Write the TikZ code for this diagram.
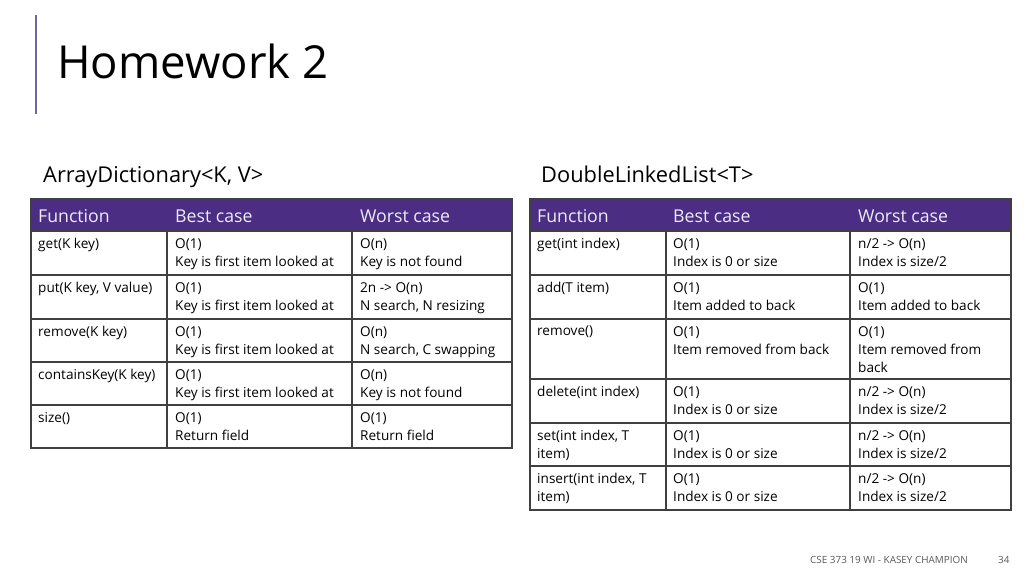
\documentclass[tikz,border=0pt]{standalone}
\usepackage{fontspec}
\setmainfont{Open Sans}
\usetikzlibrary{positioning}
\definecolor{hwpurple}{HTML}{4B2E83}
\definecolor{hwhead}{HTML}{EEEAF7}
\definecolor{hwgrid}{HTML}{404040}
\definecolor{hwbar}{HTML}{6E6A98}
\definecolor{hwfoot}{HTML}{595959}
\tikzset{
  cell/.style={anchor=north west, inner sep=0pt, align=left, font=\fontsize{13.6}{18}\selectfont},
  headcell/.style={anchor=base west, inner sep=0pt, text=hwhead, font=\fontsize{17.7}{20}\selectfont},
  tabline/.style={hwgrid, line width=1.2pt},
}

\begin{document}
\begin{tikzpicture}[x=1pt,y=-1pt]
  \useasboundingbox[fill=white] (0,0) rectangle (1024,576);
  \draw[hwbar, line width=1.5pt] (36,15) -- (36,114);
  \node[anchor=base west, inner sep=0pt, font=\fontsize{45.5}{50}\selectfont] (title) at (57,78) {Homework 2};
  \node[anchor=base west, inner sep=0pt, font=\fontsize{21.8}{24}\selectfont] (arrdict) at (43,182) {ArrayDictionary<K, V>};
  \node[anchor=base west, inner sep=0pt, font=\fontsize{21.8}{24}\selectfont] (dllist) at (541,182) {DoubleLinkedList<T>};

  \fill[hwpurple] (31,199) rectangle (512,231);
  \fill[hwpurple] (530,199) rectangle (1011,231);
  \node[headcell] (lhf) at (38,222) {Function};
  \node[headcell] (lhb) at (175,222) {Best case};
  \node[headcell] (lhw) at (360,222) {Worst case};
  \node[headcell] (rhf) at (537,222) {Function};
  \node[headcell] (rhb) at (673,222) {Best case};
  \node[headcell] (rhw) at (858,222) {Worst case};

  \draw[tabline] (31,199) rectangle (512,448);
  \draw[tabline] (31,231) -- (512,231);
  \draw[tabline] (31,275) -- (512,275);
  \draw[tabline] (31,319) -- (512,319);
  \draw[tabline] (31,362) -- (512,362);
  \draw[tabline] (31,405) -- (512,405);
  \draw[tabline] (167,231) -- (167,448);
  \draw[tabline] (352,231) -- (352,448);

  \draw[tabline] (530,199) rectangle (1011,510);
  \draw[tabline] (530,231) -- (1011,231);
  \draw[tabline] (530,275) -- (1011,275);
  \draw[tabline] (530,319) -- (1011,319);
  \draw[tabline] (530,379) -- (1011,379);
  \draw[tabline] (530,423) -- (1011,423);
  \draw[tabline] (530,466) -- (1011,466);
  \draw[tabline] (666,231) -- (666,510);
  \draw[tabline] (850,231) -- (850,510);

  \node[cell] (lf1) at (38,238) {get(K key)};
  \node[cell] (lb1) at (175,238) {O(1)\\Key is first item looked at};
  \node[cell] (lw1) at (360,238) {O(n)\\Key is not found};
  \node[cell] (lf2) at (38,282) {put(K key, V value)};
  \node[cell] (lb2) at (175,282) {O(1)\\Key is first item looked at};
  \node[cell] (lw2) at (360,282) {2n -> O(n)\\N search, N resizing};
  \node[cell] (lf3) at (38,326) {remove(K key)};
  \node[cell] (lb3) at (175,326) {O(1)\\Key is first item looked at};
  \node[cell] (lw3) at (360,326) {O(n)\\N search, C swapping};
  \node[cell] (lf4) at (38,369) {containsKey(K key)};
  \node[cell] (lb4) at (175,369) {O(1)\\Key is first item looked at};
  \node[cell] (lw4) at (360,369) {O(n)\\Key is not found};
  \node[cell] (lf5) at (38,412) {size()};
  \node[cell] (lb5) at (175,412) {O(1)\\Return field};
  \node[cell] (lw5) at (360,412) {O(1)\\Return field};

  \node[cell] (rf1) at (537,238) {get(int index)};
  \node[cell] (rb1) at (673,238) {O(1)\\Index is 0 or size};
  \node[cell] (rw1) at (858,238) {n/2 -> O(n)\\Index is size/2};
  \node[cell] (rf2) at (537,282) {add(T item)};
  \node[cell] (rb2) at (673,282) {O(1)\\Item added to back};
  \node[cell] (rw2) at (858,282) {O(1)\\Item added to back};
  \node[cell] (rf3) at (537,326) {remove()};
  \node[cell] (rb3) at (673,326) {O(1)\\Item removed from back};
  \node[cell] (rw3) at (858,326) {O(1)\\Item removed from\\back};
  \node[cell] (rf4) at (537,386) {delete(int index)};
  \node[cell] (rb4) at (673,386) {O(1)\\Index is 0 or size};
  \node[cell] (rw4) at (858,386) {n/2 -> O(n)\\Index is size/2};
  \node[cell] (rf5) at (537,430) {set(int index, T\\item)};
  \node[cell] (rb5) at (673,430) {O(1)\\Index is 0 or size};
  \node[cell] (rw5) at (858,430) {n/2 -> O(n)\\Index is size/2};
  \node[cell] (rf6) at (537,473) {insert(int index, T\\item)};
  \node[cell] (rb6) at (673,473) {O(1)\\Index is 0 or size};
  \node[cell] (rw6) at (858,473) {n/2 -> O(n)\\Index is size/2};

  \node[anchor=base west, inner sep=0pt, text=hwfoot, font=\fontsize{9.9}{11}\selectfont] (footer) at (810,563) {CSE 373 19 WI - KASEY CHAMPION};
  \node[anchor=base west, inner sep=0pt, text=hwfoot, font=\fontsize{9.9}{11}\selectfont] (pagenum) at (998,563) {34};
\end{tikzpicture}
\end{document}
